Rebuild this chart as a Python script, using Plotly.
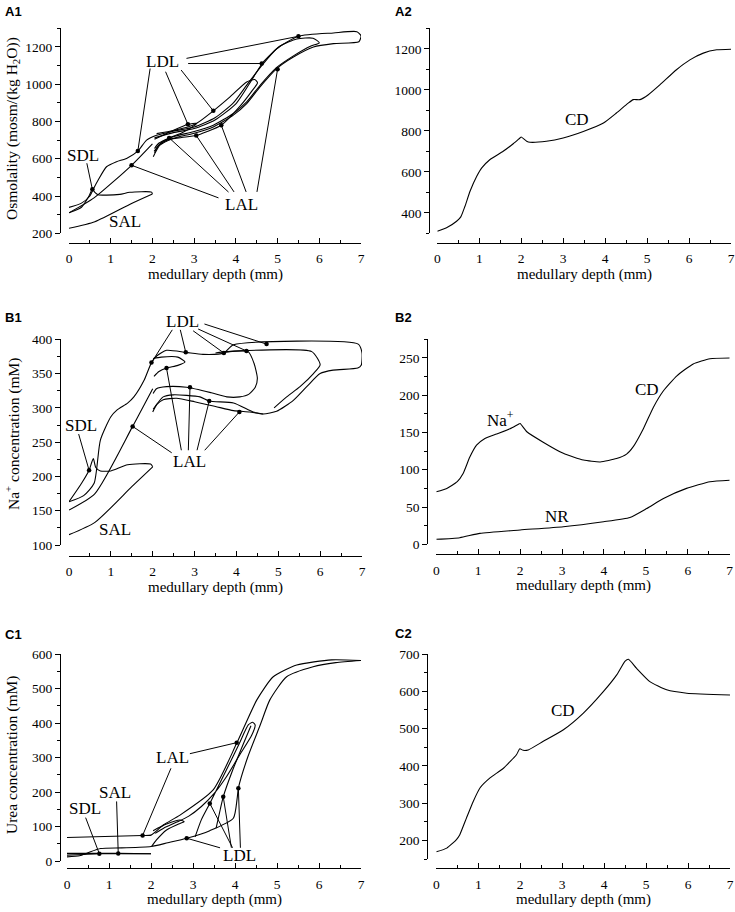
import plotly.graph_objects as go

W, H = 735, 912
SERIF = "Liberation Serif"

# ---------------- A1: osmolality, loops ----------------
A1_SAL_X = [0, 0.62, 1.5, 2.0]
A1_SAL_Y = [227, 262, 360, 411]
A1_SDL_X = [0, 0.3, 0.48, 0.56, 0.62, 0.7, 0.9, 1.22, 1.46, 1.98, 2.0]
A1_SDL_Y = [310, 340, 400, 436, 420, 407, 405, 409, 420, 421, 411]
A1_LALO_X = [0, 0.6, 1.5, 2.0]
A1_LALO_Y = [310, 390, 565, 680]
A1_L7_X = [0, 0.3, 0.5, 0.6, 0.7, 0.9, 1.14, 1.38, 1.65, 1.86, 2.1, 2.5, 3.0, 3.5, 3.94, 4.26, 4.62, 4.98,
           5.5, 6.34, 6.9, 7.0, 6.95, 6.34, 5.86, 5.38, 4.98, 4.58, 4.26, 3.94, 3.46, 2.98, 2.5, 2.18, 2.02]
A1_L7_Y = [339, 362, 400, 445, 486, 557, 584, 602, 641, 700, 726, 748, 770, 820, 900, 995, 1100, 1190,
           1257, 1275, 1282, 1260, 1228, 1218, 1200, 1146, 1084, 986, 896, 834, 771, 736, 709, 673, 611]
A1_L6_X = [2.05, 2.5, 3.0, 3.5, 4.0, 4.4, 4.66, 5.06, 5.46, 5.85, 6.0, 5.8, 5.38, 4.98, 4.58, 4.26, 3.94,
           3.46, 2.98, 2.5, 2.2, 2.04]
A1_L6_Y = [712, 740, 762, 808, 895, 1030, 1120, 1205, 1243, 1247, 1222, 1205, 1152, 1090, 994, 905, 843,
           780, 745, 718, 684, 640]
A1_L45_X = [2.1, 2.5, 2.85, 3.06, 3.46, 3.86, 4.26, 4.45, 4.52, 4.4, 4.1, 3.65, 3.3, 3.05, 2.7, 2.4, 2.15, 2.05]
A1_L45_Y = [735, 752, 770, 790, 857, 932, 1012, 1025, 1008, 968, 882, 780, 745, 725, 714, 704, 672, 632]
A1_L3_X = [2.05, 2.4, 2.85, 3.06, 3.0, 2.7, 2.4, 2.15, 2.05]
A1_L3_Y = [705, 742, 785, 790, 778, 738, 712, 683, 655]
A1_LDL_DOT_X = [1.65, 2.85, 3.46, 4.62, 5.5]
A1_LDL_DOT_Y = [641, 785, 857, 1111, 1257]
A1_LDL_TAIL_X = [1.95, 2.3, 2.66, 2.82, 2.78]
A1_LDL_TAIL_Y = [1092, 1075, 1084, 1111, 1137]
A1_LAL_DOT_X = [1.5, 2.4, 3.05, 3.65, 5.0]
A1_LAL_DOT_Y = [565, 712, 725, 780, 1080]
A1_LAL_TAIL_X = [3.62, 3.86, 3.98, 4.26, 4.5]
A1_LAL_TAIL_Y = [387, 414, 414, 414, 414]
A1_SDL_DOT_X = [0.56]
A1_SDL_DOT_Y = [436]
A1_SDL_TAIL_X = [0.42]
A1_SDL_TAIL_Y = [584]

# ---------------- A2: CD osmolality ----------------
A2_X = [0, 0.22, 0.46, 0.56, 0.66, 0.78, 0.94, 1.06, 1.25, 1.57, 1.81, 1.97, 2.0, 2.13, 2.21, 2.6, 3.0,
        3.48, 3.96, 4.27, 4.55, 4.67, 4.83, 5.03, 5.31, 5.7, 6.02, 6.34, 6.66, 7.0]
A2_Y = [310, 327, 359, 380, 432, 505, 578, 619, 659, 700, 737, 765, 770, 749, 744, 749, 765,
        797, 838, 887, 935, 952, 952, 976, 1025, 1098, 1146, 1179, 1195, 1198]

# ---------------- B1: Na+, loops ----------------
B1_SDL_X = [0, 0.3, 0.48, 0.58, 0.64, 0.75, 1.0, 1.4, 1.95, 2.0]
B1_SDL_Y = [163, 190, 209, 226, 213, 208, 208, 217, 218, 214]
B1_SAL_X = [2.0, 1.5, 0.62, 0]
B1_SAL_Y = [214, 185, 133, 115]
B1_LALO_X = [0, 0.62, 1.52, 2.0]
B1_LALO_Y = [151, 175, 273, 328]
B1_L7_X = [0, 0.35, 0.6, 0.75, 1.0, 1.15, 1.4, 1.55, 1.8, 1.97, 2.1, 2.33, 2.79, 3.2, 3.7, 3.93, 6.91, 7.0,
           6.98, 6.9, 6.31, 6.0, 5.68, 5.36, 4.96, 4.64, 4.32, 3.93, 3.5, 3.0, 2.57, 2.25, 2.1, 2.0]
B1_L7_Y = [163, 172, 190, 253, 287, 297, 307, 316, 341, 366, 376, 384, 381, 378, 380, 392, 393, 380,
           362, 358, 355, 350, 331, 311, 295, 291, 294, 296, 302, 309, 314, 312, 305, 294]
B1_L6_X = [3.5, 3.77, 5.8, 6.0, 5.84, 5.52, 5.2, 4.9]
B1_L6_Y = [380, 382, 382, 363, 350, 331, 316, 300]
B1_L45_X = [3.7, 4.28, 4.42, 4.5, 4.45, 4.3, 4.08, 3.77, 3.4, 2.81, 2.33, 2.09, 2.01]
B1_L45_Y = [381, 382, 365, 343, 330, 320, 316, 316, 322, 330, 331, 328, 321]
B1_LALC_X = [2.01, 2.25, 2.49, 3.13, 3.35, 3.93, 4.4, 4.64]
B1_LALC_Y = [298, 316, 319, 316, 310, 307, 294, 291]
B1_L27_X = [2.01, 2.2, 2.6, 2.77, 2.6, 2.33, 2.15, 2.03]
B1_L27_Y = [372, 374, 374, 367, 362, 358, 353, 346]
B1_LDL_DOT_X = [1.97, 2.79, 3.70, 4.24, 4.72]
B1_LDL_DOT_Y = [366, 381, 380, 383, 393]
B1_LDL_TAIL_X = [2.49, 2.65, 2.93, 3.05, 3.2]
B1_LDL_TAIL_Y = [416, 416, 414, 416, 423]
B1_LAL_DOT_X = [1.52, 2.33, 2.89, 3.35, 4.07]
B1_LAL_DOT_Y = [273, 358, 330, 310, 294]
B1_LAL_TAIL_X = [2.49, 2.69, 2.85, 3.05, 3.21]
B1_LAL_TAIL_Y = [233, 236, 236, 236, 236]
B1_SDL_DOT_X = [0.48]
B1_SDL_DOT_Y = [209]
B1_SDL_TAIL_X = [0.22]
B1_SDL_TAIL_Y = [264]

# ---------------- B2: CD Na+ and NR ----------------
B2_NA_X = [0, 0.25, 0.5, 0.64, 0.8, 0.96, 1.16, 1.44, 1.76, 1.96, 2.0, 2.16, 2.55, 3.03, 3.51, 3.91, 4.3,
           4.54, 4.7, 4.94, 5.18, 5.42, 5.74, 6.13, 6.53, 7.0]
B2_NA_Y = [70.4, 75, 84, 95, 117, 133, 142, 148, 155, 161, 162, 151, 137, 122, 113, 110.5, 115,
           121, 131, 155, 184, 206, 226, 242, 249, 250]
B2_NR_X = [0, 0.56, 1.04, 2.0, 3.03, 3.99, 4.62, 5.02, 5.42, 5.97, 6.53, 7.0]
B2_NR_Y = [6.7, 8.9, 14.7, 19.2, 23.6, 30.3, 36, 48, 61.5, 75, 84, 86]

# ---------------- C1: urea, loops ----------------
C1_SDL_X = [0, 0.4, 0.77, 1.5, 2.0]
C1_SDL_Y = [17, 19, 21, 21, 21]
C1_SAL_X = [0, 0.6, 1.22, 2.0]
C1_SAL_Y = [22, 22, 22, 21]
C1_TRUNK_X = [0, 0.3, 0.5, 0.8, 1.3, 2.0, 2.4, 2.85, 3.4, 3.96, 4.05, 4.08, 4.3, 4.6, 4.83, 5.23, 5.86, 6.4, 7.0]
C1_TRUNK_Y = [12, 15, 24, 36, 38, 42, 53, 66, 88, 124, 180, 211, 300, 394, 467, 534, 563, 575, 581]
C1_LAL7_X = [7.0, 6.3, 5.47, 4.91, 4.52, 4.04, 3.48, 2.69, 2.3, 2.08, 2.0, 1.8, 0]
C1_LAL7_Y = [581, 583, 568, 534, 467, 341, 206, 133, 105, 82, 75, 74, 68]
C1_L44_X = [3.05, 3.2, 3.4, 3.8, 4.1, 4.32, 4.42, 4.48, 4.4, 4.1, 3.8, 3.5, 3.2, 2.9, 2.6, 2.3, 2.1]
C1_L44_Y = [70, 120, 167, 265, 340, 395, 402, 394, 365, 305, 245, 195, 158, 130, 112, 95, 80]
C1_LDLB_X = [3.55, 3.65, 3.72, 3.95, 4.2, 4.38]
C1_LDLB_Y = [95, 150, 186, 265, 340, 392]
C1_L27_X = [2.05, 2.37, 2.69, 2.79, 2.69, 2.37, 2.13, 2.02]
C1_L27_Y = [88, 107, 119, 114, 109, 90, 61, 43]
C1_LDL_DOT_X = [2.85, 3.4, 3.72, 4.08]
C1_LDL_DOT_Y = [66, 167, 186, 211]
C1_LDL_TAIL_X = [3.68, 3.96, 3.92, 4.13]
C1_LDL_TAIL_Y = [37, 34, 34, 34]
C1_LAL_DOT_X = [4.04, 1.8]
C1_LAL_DOT_Y = [343, 74]
C1_LAL_TAIL_X = [2.89, 2.49]
C1_LAL_TAIL_Y = [310, 273]
C1_SAL_DOT_X = [1.22]
C1_SAL_DOT_Y = [22]
C1_SAL_TAIL_X = [1.18]
C1_SAL_TAIL_Y = [177]
C1_SDL_DOT_X = [0.77]
C1_SDL_DOT_Y = [21]
C1_SDL_TAIL_X = [0.43]
C1_SDL_TAIL_Y = [130]

# ---------------- C2: CD urea ----------------
C2_X = [0, 0.25, 0.48, 0.56, 0.72, 0.88, 1.04, 1.28, 1.6, 1.91, 1.99, 2.07, 2.19, 2.55, 3.03, 3.5, 3.98,
        4.3, 4.5, 4.58, 4.77, 5.09, 5.49, 5.97, 7.0]
C2_Y = [170, 180, 203, 216, 261, 305, 341, 368, 394, 430, 446, 442, 443, 466, 497, 541, 599,
        644, 681, 686, 662, 626, 604, 595, 590]

# ---------------- panel geometry (pixels) ----------------
# name: (x0, x1, ytop, ybottom, yaxis line x, xaxis line y, yrange, ydtick, yminor, ytick0)
PANELS = {
    "A1": (69, 361, 28.3, 233.3, 60, 243, [200, 1300], 200, 100, 200),
    "A2": (437.3, 731, 28.3, 233.3, 429.3, 243, [300, 1300], 200, 100, 400),
    "B1": (69, 362, 339.3, 545, 60, 556, [100, 400], 50, 25, 100),
    "B2": (436.3, 729.7, 339.3, 544.3, 427.3, 554.3, [0, 275], 50, 25, 0),
    "C1": (67, 361, 654, 861, 60, 868.3, [0, 600], 100, 50, 0),
    "C2": (436.3, 730, 654, 859.3, 427.3, 868.3, [150, 700], 100, 50, 200),
}
ORDER = ["A1", "A2", "B1", "B2", "C1", "C2"]

fig = go.Figure()
layout = dict(width=W, height=H, margin=dict(l=0, r=0, t=0, b=0, pad=0, autoexpand=False),
              paper_bgcolor="white", plot_bgcolor="white", showlegend=False, template="none",
              font=dict(family=SERIF, size=14, color="black"))
annotations = []
tickfont = dict(family=SERIF, size=13.5, color="black")

for i, name in enumerate(ORDER):
    x0, x1, yt, yb, ylx, xly, yr, ydt, ymn, yt0 = PANELS[name]
    sfx = "" if i == 0 else str(i + 1)
    layout["xaxis" + sfx] = dict(
        domain=[x0 / W, x1 / W], range=[0, 7], anchor="free", position=1 - xly / H,
        showline=True, linecolor="black", linewidth=1, ticks="inside", ticklen=5, tickwidth=1,
        tickcolor="black", tick0=0, dtick=1, showgrid=False, zeroline=False, tickfont=tickfont,
        ticklabeloverflow="allow", automargin=False, ticklabelstandoff=3,
        minor=dict(dtick=0.5, tick0=0, ticks="inside", ticklen=3, tickcolor="black", showgrid=False),
        fixedrange=True)
    layout["yaxis" + sfx] = dict(
        domain=[1 - yb / H, 1 - yt / H], range=yr, anchor="free", position=ylx / W,
        showline=True, linecolor="black", linewidth=1, ticks="outside", ticklen=5, tickwidth=1,
        tickcolor="black", tick0=yt0, dtick=ydt, showgrid=False, zeroline=False, tickfont=tickfont,
        ticklabeloverflow="allow", automargin=False,
        minor=dict(dtick=ymn, ticks="outside", ticklen=3, tickcolor="black", showgrid=False),
        fixedrange=True)
    # x-axis title
    annotations.append(dict(text="medullary depth (mm)", xref="paper", yref="paper",
                            x=(x0 + x1) / 2 / W, y=1 - (xly + 31) / H, showarrow=False,
                            font=dict(family=SERIF, size=15, color="black"),
                            xanchor="center", yanchor="middle"))

XA = {n: ("x" if i == 0 else "x" + str(i + 1)) for i, n in enumerate(ORDER)}
YA = {n: ("y" if i == 0 else "y" + str(i + 1)) for i, n in enumerate(ORDER)}


def curve(panel, xs, ys, smooth=0.6):
    fig.add_trace(go.Scatter(x=xs, y=ys, mode="lines", xaxis=XA[panel], yaxis=YA[panel],
                             line=dict(color="black", width=1.1, shape="spline", smoothing=smooth),
                             hoverinfo="skip"))


def dots(panel, xs, ys):
    fig.add_trace(go.Scatter(x=xs, y=ys, mode="markers", xaxis=XA[panel], yaxis=YA[panel],
                             marker=dict(color="black", size=4.5), cliponaxis=False,
                             hoverinfo="skip"))


def leaders(panel, dx, dy, tx, ty):
    for a, b, c, d in zip(dx, dy, tx, ty):
        annotations.append(dict(x=a, y=b, ax=c, ay=d, xref=XA[panel], yref=YA[panel],
                                axref=XA[panel], ayref=YA[panel], text="", showarrow=True,
                                arrowhead=0, arrowwidth=1, arrowcolor="black",
                                standoff=0, startstandoff=0))


def label(panel, text, x, y, size=17):
    # y given in data units; placed via the axis domain so it may sit outside the range
    yr = PANELS[panel][6]
    annotations.append(dict(text=text, x=x, y=(y - yr[0]) / (yr[1] - yr[0]), xref=XA[panel],
                            yref=YA[panel] + " domain", showarrow=False,
                            font=dict(family=SERIF, size=size, color="black"),
                            xanchor="center", yanchor="middle"))


# A1
for xs, ys in [(A1_SAL_X, A1_SAL_Y), (A1_SDL_X, A1_SDL_Y), (A1_LALO_X, A1_LALO_Y), (A1_L7_X, A1_L7_Y),
               (A1_L6_X, A1_L6_Y), (A1_L45_X, A1_L45_Y), (A1_L3_X, A1_L3_Y)]:
    curve("A1", xs, ys)
leaders("A1", A1_LDL_DOT_X, A1_LDL_DOT_Y, A1_LDL_TAIL_X, A1_LDL_TAIL_Y)
leaders("A1", A1_LAL_DOT_X, A1_LAL_DOT_Y, A1_LAL_TAIL_X, A1_LAL_TAIL_Y)
leaders("A1", A1_SDL_DOT_X, A1_SDL_DOT_Y, A1_SDL_TAIL_X, A1_SDL_TAIL_Y)
dots("A1", A1_LDL_DOT_X + A1_LAL_DOT_X + A1_SDL_DOT_X, A1_LDL_DOT_Y + A1_LAL_DOT_Y + A1_SDL_DOT_Y)
label("A1", "LDL", 2.25, 1123)
label("A1", "LAL", 4.14, 357)
label("A1", "SDL", 0.33, 619)
label("A1", "SAL", 1.34, 262)

# A2
curve("A2", A2_X, A2_Y, 0.5)
label("A2", "CD", 3.34, 857)

# B1
for xs, ys in [(B1_SDL_X, B1_SDL_Y), (B1_SAL_X, B1_SAL_Y), (B1_LALO_X, B1_LALO_Y), (B1_L7_X, B1_L7_Y),
               (B1_L6_X, B1_L6_Y), (B1_L45_X, B1_L45_Y), (B1_LALC_X, B1_LALC_Y), (B1_L27_X, B1_L27_Y)]:
    curve("B1", xs, ys)
leaders("B1", B1_LDL_DOT_X, B1_LDL_DOT_Y, B1_LDL_TAIL_X, B1_LDL_TAIL_Y)
leaders("B1", B1_LAL_DOT_X, B1_LAL_DOT_Y, B1_LAL_TAIL_X, B1_LAL_TAIL_Y)
leaders("B1", B1_SDL_DOT_X, B1_SDL_DOT_Y, B1_SDL_TAIL_X, B1_SDL_TAIL_Y)
dots("B1", B1_LDL_DOT_X + B1_LAL_DOT_X + B1_SDL_DOT_X, B1_LDL_DOT_Y + B1_LAL_DOT_Y + B1_SDL_DOT_Y)
label("B1", "LDL", 2.72, 426)
label("B1", "LAL", 2.87, 222)
label("B1", "SDL", 0.29, 274)
label("B1", "SAL", 1.10, 122)

# B2
curve("B2", B2_NA_X, B2_NA_Y, 0.5)
curve("B2", B2_NR_X, B2_NR_Y, 0.5)
label("B2", "Na<sup>+</sup>", 1.54, 168)
label("B2", "CD", 5.02, 207)
label("B2", "NR", 2.87, 37)

# C1
for xs, ys in [(C1_SDL_X, C1_SDL_Y), (C1_SAL_X, C1_SAL_Y), (C1_TRUNK_X, C1_TRUNK_Y), (C1_LAL7_X, C1_LAL7_Y),
               (C1_L44_X, C1_L44_Y), (C1_LDLB_X, C1_LDLB_Y), (C1_L27_X, C1_L27_Y)]:
    curve("C1", xs, ys)
leaders("C1", C1_LDL_DOT_X, C1_LDL_DOT_Y, C1_LDL_TAIL_X, C1_LDL_TAIL_Y)
leaders("C1", C1_LAL_DOT_X, C1_LAL_DOT_Y, C1_LAL_TAIL_X, C1_LAL_TAIL_Y)
leaders("C1", C1_SAL_DOT_X, C1_SAL_DOT_Y, C1_SAL_TAIL_X, C1_SAL_TAIL_Y)
leaders("C1", C1_SDL_DOT_X, C1_SDL_DOT_Y, C1_SDL_TAIL_X, C1_SDL_TAIL_Y)
dots("C1", C1_LDL_DOT_X + C1_LAL_DOT_X + C1_SAL_DOT_X + C1_SDL_DOT_X,
     C1_LDL_DOT_Y + C1_LAL_DOT_Y + C1_SAL_DOT_Y + C1_SDL_DOT_Y)
label("C1", "LAL", 2.51, 300)
label("C1", "SAL", 1.14, 198)
label("C1", "SDL", 0.43, 153)
label("C1", "LDL", 4.1, 17)

# C2
curve("C2", C2_X, C2_Y, 0.5)
label("C2", "CD", 3.01, 548)

# y-axis titles (left column)
for text, yc in [("Osmolality (mosm/(kg H<sub>2</sub>O))", 129),
                 ("Na<sup>+</sup> concentration (mM)", 434),
                 ("Urea concentration (mM)", 755)]:
    annotations.append(dict(text=text, xref="paper", yref="paper", x=12 / W, y=1 - yc / H,
                            textangle=-90, showarrow=False, xanchor="center", yanchor="middle",
                            font=dict(family=SERIF, size=15.5, color="black")))

# panel labels
for text, px, py in [("A1", 3, 11), ("A2", 393, 11), ("B1", 3, 318), ("B2", 393, 318),
                     ("C1", 3, 634), ("C2", 393, 633)]:
    annotations.append(dict(text="<b>%s</b>" % text, xref="paper", yref="paper", x=px / W, y=1 - py / H,
                            showarrow=False, xanchor="left", yanchor="middle",
                            font=dict(family="Liberation Sans", size=13, color="black")))

layout["annotations"] = annotations
fig.update_layout(**layout)
fig.write_html("out.html", config={"displayModeBar": False},
               post_script="document.body.style.margin='0px';")
